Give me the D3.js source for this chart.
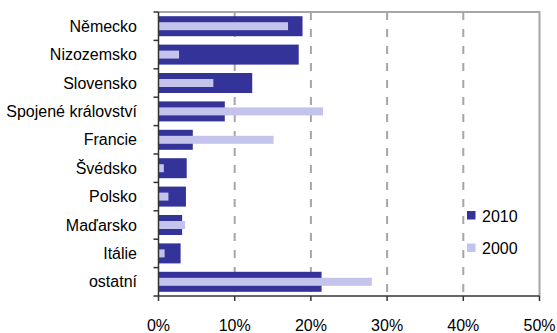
<!DOCTYPE html>
<html><head><meta charset="utf-8">
<script src="https://cdn.jsdelivr.net/npm/d3@7"></script>
<style>body{margin:0;background:#fff}svg{display:block}text{font-family:"Liberation Sans",Arial,sans-serif}</style>
</head><body>
<svg id="c" width="557" height="333"></svg>
<script>
const categories = ["Německo","Nizozemsko","Slovensko","Spojené království","Francie","Švédsko","Polsko","Maďarsko","Itálie","ostatní"];
const values2010 = [18.9, 18.4, 12.3, 8.7, 4.5, 3.7, 3.6, 3.1, 2.9, 21.4];
const values2000 = [17.0, 2.7, 7.2, 21.6, 15.1, 0.7, 1.3, 3.5, 0.8, 28.0];
const xTicks = [0, 10, 20, 30, 40, 50];
const seriesNames = ["2010", "2000"];
const colors = ["#333399", "#C3C3EC"];

const svg = d3.select("#c");
const L = 158.5, R = 539.5, T = 12, B = 296;
const FS = 16;
const x = d3.scaleLinear().domain([0, 50]).range([L, R]);
const y = d3.scaleBand().domain(categories).range([T, B]);

// gridlines
svg.append("g").selectAll("line").data(xTicks.slice(1, -1)).join("line")
  .attr("x1", d => x(d)).attr("x2", d => x(d)).attr("y1", T).attr("y2", B)
  .attr("stroke", "#A6A6A6").attr("stroke-width", 2).attr("stroke-dasharray", "8,9");
// top & right border
svg.append("path").attr("d", `M${L},${T}H${R}V${B}`).attr("fill", "none")
  .attr("stroke", "#A6A6A6").attr("stroke-width", 2);

// bars
const bh = 20, lh = 8;
svg.append("g").selectAll("rect").data(categories).join("rect")
  .attr("x", x(0)).attr("y", d => y(d) + y.bandwidth() / 2 - bh / 2)
  .attr("width", (d, i) => x(values2010[i]) - x(0)).attr("height", bh)
  .attr("fill", colors[0]);
svg.append("g").selectAll("rect").data(categories).join("rect")
  .attr("x", x(0)).attr("y", d => y(d) + y.bandwidth() / 2 - lh / 2)
  .attr("width", (d, i) => x(values2000[i]) - x(0)).attr("height", lh)
  .attr("fill", colors[1]);

// left axis
const yAxis = svg.append("g");
yAxis.append("line").attr("x1", L).attr("x2", L).attr("y1", T).attr("y2", B)
  .attr("stroke", "#333").attr("stroke-width", 1.5);
const bounds = categories.map(c => y(c)).concat([B]);
yAxis.selectAll("line.t").data(bounds).join("line").attr("class", "t")
  .attr("x1", L - 5).attr("x2", L).attr("y1", d => d).attr("y2", d => d)
  .attr("stroke", "#333").attr("stroke-width", 1.5);
yAxis.selectAll("text").data(categories).join("text")
  .attr("x", 137).attr("y", d => y(d) + y.bandwidth() / 2 + 5.6)
  .attr("text-anchor", "end").attr("font-size", FS).attr("fill", "#000").text(d => d);

// bottom axis
const xAxis = svg.append("g");
xAxis.append("line").attr("x1", L).attr("x2", R).attr("y1", B).attr("y2", B)
  .attr("stroke", "#333").attr("stroke-width", 1.5);
xAxis.selectAll("line.t").data(xTicks).join("line").attr("class", "t")
  .attr("x1", d => x(d)).attr("x2", d => x(d)).attr("y1", B).attr("y2", B + 5)
  .attr("stroke", "#333").attr("stroke-width", 1.5);
xAxis.selectAll("text").data(xTicks).join("text")
  .attr("x", d => x(d)).attr("y", 330.5).attr("text-anchor", "middle")
  .attr("font-size", FS).attr("fill", "#000").text(d => d + "%");

// legend
const lg = svg.append("g");
seriesNames.forEach((s, i) => {
  const yy = 211 + i * 32.5;
  lg.append("rect").attr("x", 467).attr("y", yy).attr("width", 8.5).attr("height", 8.5).attr("fill", colors[i]);
  lg.append("text").attr("x", 482).attr("y", yy + 10.5).attr("font-size", FS).attr("fill", "#000").text(s);
});
</script>
</body></html>
